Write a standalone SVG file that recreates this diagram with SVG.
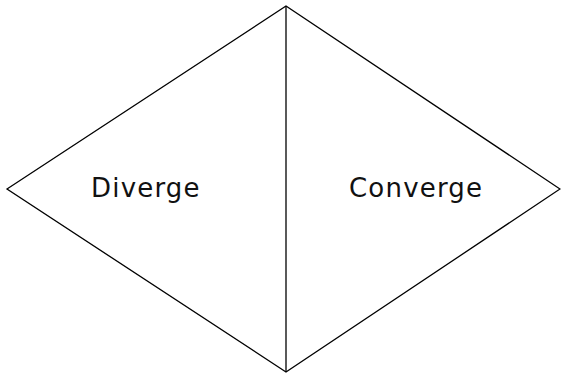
<svg xmlns="http://www.w3.org/2000/svg" width="561" height="376" viewBox="0 0 561 376">
<style>
.edge{fill:none;stroke:#000;stroke-width:1.3}
.lbl{font-family:"DejaVu Sans",Verdana,sans-serif;font-size:26px;fill:#111;letter-spacing:1.2px}
</style>
<rect width="561" height="376" fill="#fff"/>
<g id="connectors">
<polygon class="edge" points="7,189 286,6 560,189 286,372"/>
<line class="edge" x1="286" y1="6" x2="286" y2="372"/>
</g>
<g id="diverge"><text class="lbl" x="91" y="197">Diverge</text></g>
<g id="converge"><text class="lbl" x="349" y="197">Converge</text></g>
</svg>
